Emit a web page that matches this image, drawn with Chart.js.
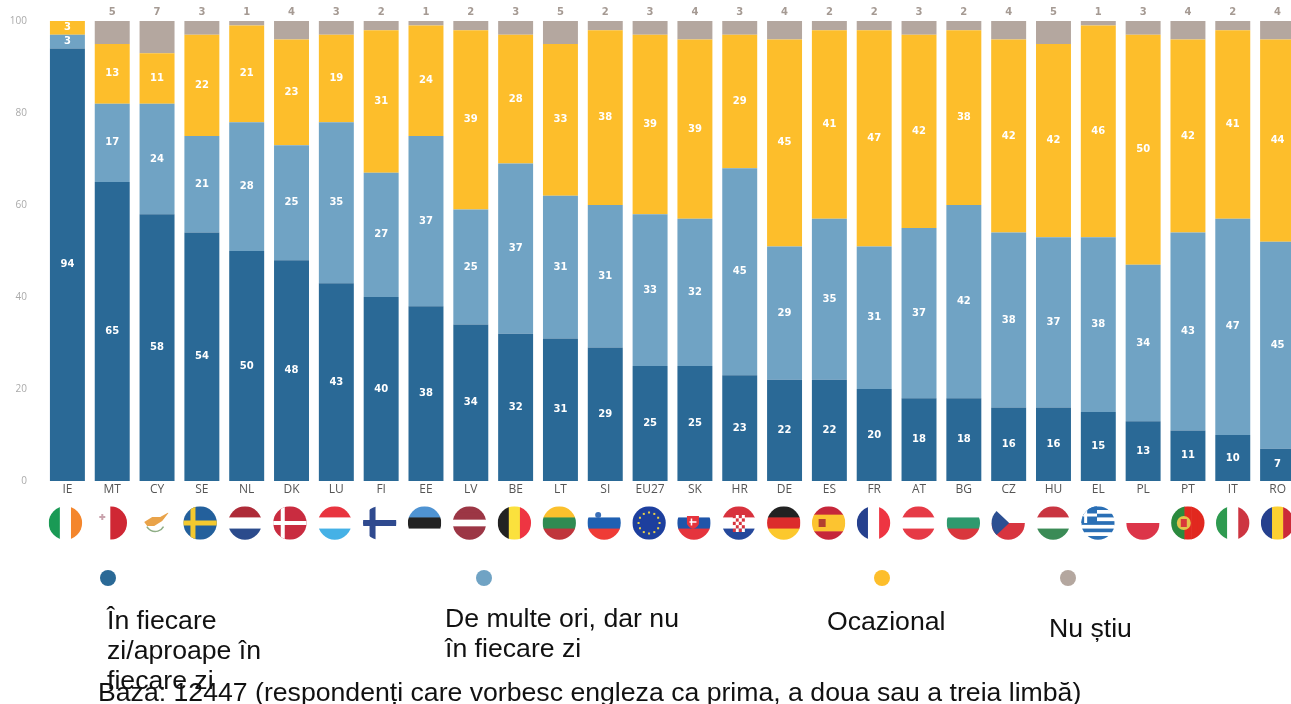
<!DOCTYPE html>
<html lang="ro">
<head>
<meta charset="utf-8">
<title>Engleza</title>
<script src="https://cdn.jsdelivr.net/npm/chart.js@4"></script>
<style>
    html, body { margin: 0; padding: 0; width: 1291px; height: 704px; overflow: hidden; background: #fff; }
    #wrap { position: relative; width: 1291px; height: 704px; overflow: hidden; }
    #grafic { position: absolute; left: 0; top: 0; filter: blur(0.5px); }
    .punct { position: absolute; width: 16px; height: 16px; border-radius: 50%; margin: -8px 0 0 -8px; }
    .txt { position: absolute; font-family: "Liberation Sans", Arial, sans-serif; font-size: 26.65px; line-height: 30px; color: #111; white-space: pre; }
</style>
</head>
<body>
<div id="wrap">
    <canvas id="grafic" width="1300" height="704"></canvas>
</div>
<script>
const tari = ["IE","MT","CY","SE","NL","DK","LU","FI","EE","LV","BE","LT","SI","EU27","SK","HR","DE","ES","FR","AT","BG","CZ","HU","EL","PL","PT","IT","RO"];

const inFiecareZi = [94,65,58,54,50,48,43,40,38,34,32,31,29,25,25,23,22,22,20,18,18,16,16,15,13,11,10,7];
const deMulteOri  = [3,17,24,21,28,25,35,27,37,25,37,31,31,33,32,45,29,35,31,37,42,38,37,38,34,43,47,45];
const ocazional   = [3,13,11,22,21,23,19,31,24,39,28,33,38,39,39,29,45,41,47,42,38,42,42,46,50,42,41,44];
const nuStiu      = [0,5,7,3,1,4,3,2,1,2,3,5,2,3,4,3,4,2,2,3,2,4,5,1,3,4,2,4];

const numeSerii = ["În fiecare\nzi/aproape în\nfiecare zi", "De multe ori, dar nu\nîn fiecare zi", "Ocazional", "Nu știu"];
const culori = ["#2a6996", "#70a3c4", "#fdbe2b", "#b4a79f"];
const notaBaza = "Baza: 12447 (respondenți care vorbesc engleza ca prima, a doua sau a treia limbă)";

// pozitii legenda, in pixeli
const legendaPuncte = [[108, 578], [484, 578], [882, 578], [1068, 578]];
const legendaText = [[107, 605], [445, 603], [827, 606], [1049, 613]];

// steaguri: v = benzi verticale, h = benzi orizontale, extra = detalii
const steaguri = {
    IE: { v: ["#1a9a55", "#fff", "#f4862c"] },
    MT: { v: ["#fff", "#cf2734"], extra: "malta" },
    CY: { v: ["#fff"], extra: "cipru" },
    SE: { v: ["#23609c"], extra: "suedia" },
    NL: { h: ["#ae2b38", "#fff", "#2b4b8c"] },
    DK: { v: ["#c92c40"], extra: "danemarca" },
    LU: { h: ["#e8343f", "#fff", "#45b1e6"] },
    FI: { v: ["#fff"], extra: "finlanda" },
    EE: { h: ["#4f93d2", "#222", "#fff"] },
    LV: { h: ["#9c3645", "#9c3645", "#fff", "#9c3645", "#9c3645"] },
    BE: { v: ["#222", "#fbe13d", "#ee3542"] },
    LT: { h: ["#fbc02d", "#2f8b52", "#c0353c"] },
    SI: { h: ["#fff", "#1f60b2", "#ef3b36"], extra: "slovenia" },
    EU27: { v: ["#1d3f9e"], extra: "ue" },
    SK: { h: ["#fff", "#1f55a9", "#e5343d"], extra: "slovacia" },
    HR: { h: ["#d8323d", "#fff", "#25489b"], extra: "croatia" },
    DE: { h: ["#222", "#dc2c2c", "#fcc82d"] },
    ES: { h: ["#c6263a", "#fcc430", "#fcc430", "#c6263a"], extra: "spania" },
    FR: { v: ["#25408e", "#fff", "#ee3542"] },
    AT: { h: ["#e63a46", "#fff", "#e63a46"] },
    BG: { h: ["#fff", "#2e9a6e", "#d9363d"] },
    CZ: { h: ["#fff", "#d8353f"], extra: "cehia" },
    HU: { h: ["#c93541", "#fff", "#3b8b56"] },
    EL: { h: ["#2a6fb5", "#fff", "#2a6fb5", "#fff", "#2a6fb5", "#fff", "#2a6fb5", "#fff", "#2a6fb5"], extra: "grecia" },
    PL: { h: ["#fff", "#dc3549"] },
    PT: { v: ["#2b8a3e", "#2b8a3e", "#e1281f", "#e1281f", "#e1281f"], extra: "portugalia" },
    IT: { v: ["#2e9a50", "#fff", "#cd3541"] },
    RO: { v: ["#25408e", "#fcd031", "#cc2a38"] }
};

function cruce(ctx, x, y, r, culoare, gros) {
    ctx.fillStyle = culoare;
    ctx.fillRect(x - r, y - gros / 2, r * 2, gros);
    ctx.fillRect(x - r * 0.42 - gros / 2, y - r, gros, r * 2);
}

const detalii = {
    malta(ctx, x, y) {
        ctx.fillStyle = "#c9a3ad";
        ctx.fillRect(x - 11, y - 7, 6, 2);
        ctx.fillRect(x - 9, y - 9, 2, 6);
    },
    cipru(ctx, x, y) {
        ctx.fillStyle = "#e9a34a";
        ctx.beginPath();
        ctx.moveTo(x - 11, y - 1);
        ctx.lineTo(x - 3, y - 6);
        ctx.lineTo(x + 5, y - 6);
        ctx.lineTo(x + 14, y - 11);
        ctx.lineTo(x + 7, y - 2);
        ctx.lineTo(x - 1, y + 3);
        ctx.lineTo(x - 8, y + 3);
        ctx.closePath();
        ctx.fill();
        ctx.strokeStyle = "#8fae86";
        ctx.lineWidth = 1.5;
        ctx.beginPath();
        ctx.arc(x, y - 1, 9.5, 0.5, Math.PI - 0.5);
        ctx.stroke();
    },
    suedia(ctx, x, y) { cruce(ctx, x, y, 17, "#f4c92f", 5); },
    danemarca(ctx, x, y) { cruce(ctx, x, y, 17, "#fff", 4); },
    finlanda(ctx, x, y) { cruce(ctx, x, y, 17, "#2f4a8f", 6); },
    slovenia(ctx, x, y) {
        ctx.fillStyle = "#3b6fb8";
        ctx.beginPath();
        ctx.arc(x - 6, y - 8, 3, 0, Math.PI * 2);
        ctx.fill();
    },
    ue(ctx, x, y) {
        ctx.fillStyle = "#e8cf4a";
        for (let k = 0; k < 12; k++) {
            const a = k * Math.PI / 6;
            ctx.fillRect(x + Math.cos(a) * 10.5 - 1, y + Math.sin(a) * 10.5 - 1, 2, 2);
        }
    },
    slovacia(ctx, x, y) {
        ctx.fillStyle = "#e5343d";
        ctx.beginPath();
        ctx.moveTo(x - 7, y - 7);
        ctx.lineTo(x + 5, y - 7);
        ctx.lineTo(x + 5, y + 1);
        ctx.quadraticCurveTo(x + 3, y + 5, x - 1, y + 6);
        ctx.quadraticCurveTo(x - 5, y + 5, x - 7, y + 1);
        ctx.closePath();
        ctx.fill();
        cruce(ctx, x - 1, y - 1, 3.5, "#fff", 1.5);
    },
    croatia(ctx, x, y) {
        for (let r = 0; r < 5; r++) {
            for (let c = 0; c < 4; c++) {
                ctx.fillStyle = (r + c) % 2 ? "#fff" : "#d8323d";
                ctx.fillRect(x - 6 + c * 3, y - 8 + r * 3.4, 3, 3.4);
            }
        }
    },
    spania(ctx, x, y) {
        ctx.fillStyle = "#b3402f";
        ctx.fillRect(x - 10, y - 4, 7, 8);
    },
    cehia(ctx, x, y) {
        ctx.fillStyle = "#2c4f92";
        ctx.beginPath();
        ctx.moveTo(x - 17, y - 17);
        ctx.lineTo(x + 1, y);
        ctx.lineTo(x - 17, y + 17);
        ctx.closePath();
        ctx.fill();
    },
    grecia(ctx, x, y) {
        ctx.fillStyle = "#2a6fb5";
        ctx.fillRect(x - 17, y - 17, 16, 17);
        cruce(ctx, x - 9, y - 8, 8, "#fff", 3);
    },
    portugalia(ctx, x, y) {
        ctx.fillStyle = "#e3c34a";
        ctx.beginPath();
        ctx.arc(x - 4, y, 7, 0, Math.PI * 2);
        ctx.fill();
        ctx.fillStyle = "#d8383a";
        ctx.fillRect(x - 7, y - 4, 6, 8);
    }
};

function deseneazaSteag(ctx, cod, x, y, r) {
    const s = steaguri[cod];
    ctx.save();
    ctx.beginPath();
    ctx.arc(x, y, r, 0, Math.PI * 2);
    ctx.clip();
    const benzi = s.v || s.h;
    benzi.forEach((c, k) => {
        ctx.fillStyle = c;
        if (s.v) ctx.fillRect(x - r + k * 2 * r / benzi.length, y - r, 2 * r / benzi.length + 0.5, 2 * r);
        else ctx.fillRect(x - r, y - r + k * 2 * r / benzi.length, 2 * r, 2 * r / benzi.length + 0.5);
    });
    if (s.extra) detalii[s.extra](ctx, x, y);
    ctx.restore();
}

// etichete in bare + numerele gri de sus
const pluginEtichete = {
    id: "etichete",
    afterDatasetsDraw(chart) {
        const ctx = chart.ctx;
        ctx.save();
        ctx.textAlign = "center";
        ctx.textBaseline = "middle";
        ctx.font = 'bold 10px "DejaVu Sans"';
        chart.data.datasets.forEach((ds, d) => {
            chart.getDatasetMeta(d).data.forEach((bar, i) => {
                const v = ds.data[i];
                if (!v) return;
                if (d === 3) {
                    ctx.fillStyle = "#a59a93";
                    ctx.fillText(v, bar.x, bar.y - 9);
                } else {
                    ctx.fillStyle = "#fff";
                    ctx.fillText(v, bar.x, (bar.y + bar.base) / 2);
                }
            });
        });
        ctx.restore();
    }
};

const pluginSteaguri = {
    id: "steaguri",
    afterDraw(chart) {
        const scalaX = chart.scales.x;
        tari.forEach((cod, i) => {
            const dx = -2 + 2 * i / (tari.length - 1);
            deseneazaSteag(chart.ctx, cod, scalaX.getPixelForValue(i) + dx, 523, 16.7);
        });
    }
};

const serii = [inFiecareZi, deMulteOri, ocazional, nuStiu];

new Chart(document.getElementById("grafic"), {
    type: "bar",
    data: {
        labels: tari,
        datasets: serii.map((valori, k) => ({
            label: numeSerii[k].replace(/\n/g, " "),
            data: valori,
            backgroundColor: culori[k],
            barPercentage: 0.78,
            categoryPercentage: 1
        }))
    },
    options: {
        responsive: false,
        animation: false,
        layout: { padding: { top: 21 } },
        plugins: { legend: { display: false }, tooltip: { enabled: false } },
        scales: {
            x: {
                stacked: true,
                grid: { display: false, drawTicks: false },
                border: { display: false },
                afterFit(scale) { scale.height = 223; },
                ticks: {
                    autoSkip: false,
                    maxRotation: 0,
                    padding: 1,
                    color: "#555",
                    font: { family: '"Open Sans"', size: 12 }
                }
            },
            y: {
                stacked: true,
                min: 0,
                max: 100,
                grid: { display: false, drawTicks: false },
                border: { display: false },
                afterFit(scale) { scale.width = 45; },
                ticks: {
                    stepSize: 20,
                    padding: 18,
                    color: "#aaa",
                    // padding-ul se aduna si sus, lineHeight mic tine zona de sus la 21px
                    font: { family: '"Open Sans"', size: 10, lineHeight: 0.6 }
                }
            }
        }
    },
    plugins: [pluginEtichete, pluginSteaguri]
});

// legenda si nota de jos
const wrap = document.getElementById("wrap");
numeSerii.forEach((nume, k) => {
    const punct = document.createElement("span");
    punct.className = "punct";
    punct.style.left = legendaPuncte[k][0] + "px";
    punct.style.top = legendaPuncte[k][1] + "px";
    punct.style.background = culori[k];
    wrap.appendChild(punct);

    const txt = document.createElement("div");
    txt.className = "txt";
    txt.style.left = legendaText[k][0] + "px";
    txt.style.top = legendaText[k][1] + "px";
    txt.textContent = nume;
    wrap.appendChild(txt);
});

const nota = document.createElement("div");
nota.className = "txt";
nota.style.left = "98px";
nota.style.top = "677px";
nota.textContent = notaBaza;
wrap.appendChild(nota);
</script>
</body>
</html>
